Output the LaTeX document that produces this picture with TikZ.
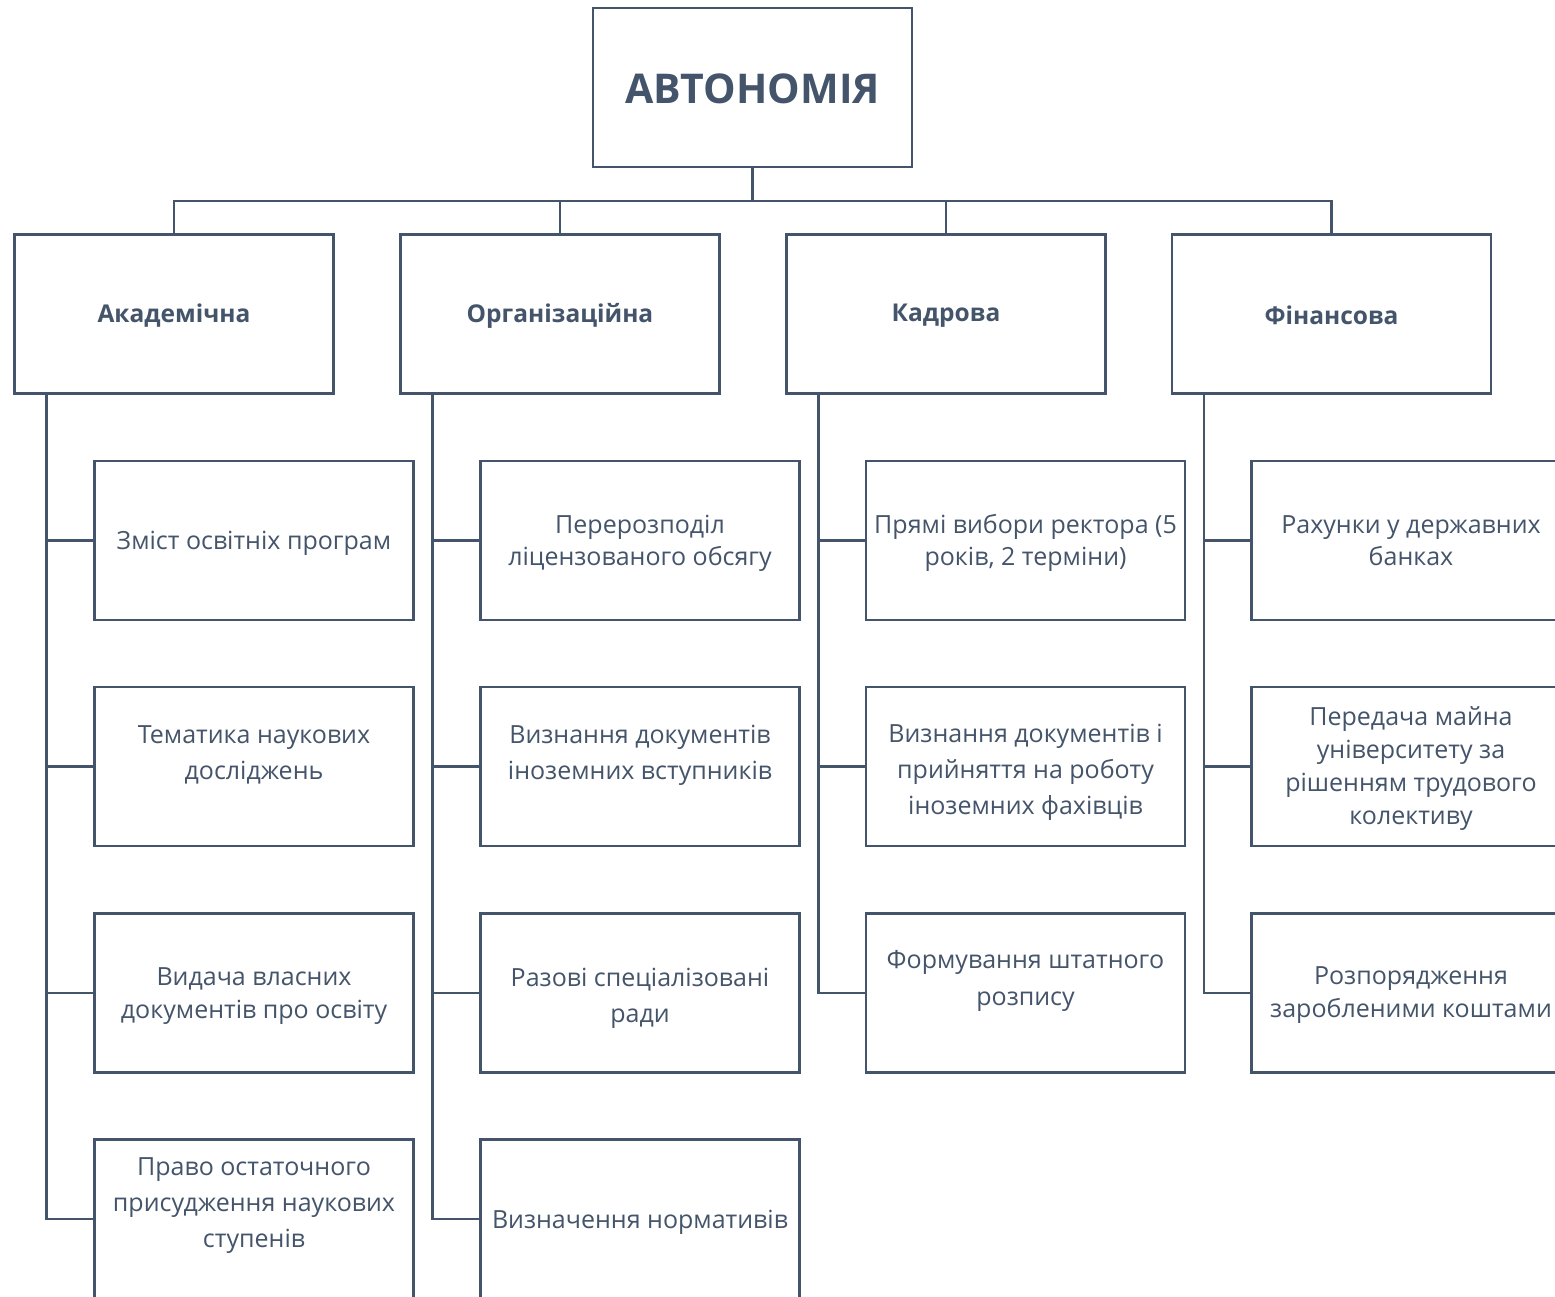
\documentclass[tikz,border=0pt]{standalone}
\usepackage{fontspec}
\setmainfont{Open Sans}
\usetikzlibrary{calc}
\definecolor{slate}{HTML}{44546A}
\tikzset{
  box/.style={draw=slate, line width=2.4pt, fill=white, minimum width=319pt, minimum height=159pt, inner sep=0pt},
  txt/.style={text=slate, align=center, font=\fontsize{25}{32}\selectfont, inner sep=0pt},
  hdr/.style={text=slate, align=center, font=\fontsize{24.5}{30}\selectfont\bfseries, inner sep=0pt},
  conn/.style={draw=slate, line width=2.4pt}
}
\begin{document}
\begin{tikzpicture}[x=1pt,y=-1pt]
\useasboundingbox (0,0) rectangle (1555,1297);
% top
\node[box] (top) at (752.5,87.5) {};
\node[text=slate, font=\fontsize{41}{50}\selectfont\bfseries, inner sep=0pt] (toptxt) at (752.5,88.5) {АВТОНОМІЯ};
% level 2
\node[box] (acad) at (174,314) {};
\node[box] (org) at (560,314) {};
\node[box] (kad) at (946,314) {};
\node[box] (fin) at (1331.5,314) {};
\node[hdr] (acadt) at ($(acad.center)+(0,2)$) {Академічна};
\node[hdr] (orgt) at ($(org.center)+(0,2)$) {Організаційна};
\node[hdr] (kadt) at ($(kad.center)+(0,2)$) {Кадрова};
\node[hdr] (fint) at ($(fin.center)+(0,1)$) {Фінансова};
\coordinate (bus) at (752.5,201);
\draw[conn] (top.south) -- (bus);
\draw[conn] (bus) -| (acad.north);
\draw[conn] (bus) -| (org.north);
\draw[conn] (bus) -| (kad.north);
\draw[conn] (bus) -| (fin.north);
% children boxes
\foreach \n/\x in {a/254,o/640,k/1025.5,f/1411}{
  \node[box] (\n1) at (\x,540.5) {};
  \node[box] (\n2) at (\x,766.5) {};
  \node[box] (\n3) at (\x,993) {};
}
\node[box] (a4) at (254,1219) {};
\node[box] (o4) at (640,1219) {};
% legs
\coordinate (aL) at ($(acad.south west)+(33,0)$);
\coordinate (oL) at ($(org.south west)+(33,0)$);
\coordinate (kL) at ($(kad.south west)+(33,0)$);
\coordinate (fL) at ($(fin.south west)+(33,0)$);
\foreach \i in {1,2,3,4}{ \draw[conn] (aL) |- (a\i.west); \draw[conn] (oL) |- (o\i.west); }
\foreach \i in {1,2,3}{ \draw[conn] (kL) |- (k\i.west); \draw[conn] (fL) |- (f\i.west); }
% texts
\node[txt] (a1t) at (254,543) {Зміст освітніх програм};
\node[txt, font=\fontsize{25}{36}\selectfont] (a2t) at (254,755) {Тематика наукових\\досліджень};
\node[txt, font=\fontsize{25}{33}\selectfont] (a3t) at (254,996.5) {Видача власних\\документів про освіту};
\node[txt, font=\fontsize{25}{36}\selectfont] (a4t) at (254,1206) {Право остаточного\\присудження наукових\\ступенів};
\node[txt] (o1t) at (640,543) {Перерозподіл\\ліцензованого обсягу};
\node[txt, font=\fontsize{25}{36}\selectfont] (o2t) at (640,755) {Визнання документів\\іноземних вступників};
\node[txt, font=\fontsize{25}{36}\selectfont] (o3t) at (640,998) {Разові спеціалізовані\\ради};
\node[txt] (o4t) at (640,1222) {Визначення нормативів};
\node[txt] (k1t) at (1025.5,543) {Прямі вибори ректора (5\\років, 2 терміни)};
\node[txt, font=\fontsize{25}{36}\selectfont] (k2t) at (1025.5,772) {Визнання документів і\\прийняття на роботу\\іноземних фахівців};
\node[txt, font=\fontsize{25}{37}\selectfont] (k3t) at (1025.5,980.5) {Формування штатного\\розпису};
\node[txt] (f1t) at (1411,541) {Рахунки у державних\\банках};
\node[txt, font=\fontsize{25}{33}\selectfont] (f2t) at (1411,769) {Передача майна\\університету за\\рішенням трудового\\колективу};
\node[txt, font=\fontsize{25}{33}\selectfont] (f3t) at (1411,995.5) {Розпорядження\\заробленими коштами};
\end{tikzpicture}
\end{document}
